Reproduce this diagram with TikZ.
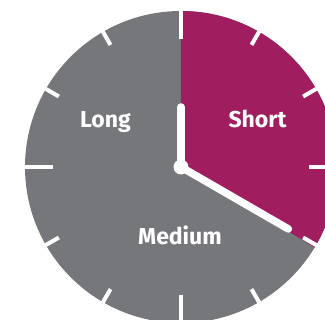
\documentclass[tikz,border=0pt]{standalone}
\usepackage{fontspec}
\setmainfont{Fira Sans}
\usetikzlibrary{calc}
\definecolor{clkgray}{RGB}{118,119,123}
\definecolor{clkmag}{RGB}{160,30,96}
\begin{document}
\begin{tikzpicture}[x=1pt,y=1pt,
  tickline/.style={white,line width=4pt},
  hand/.style={white,line width=7.5pt,line cap=round},
  lbl/.style={text=white,font=\fontsize{23}{27}\selectfont\bfseries,inner sep=0pt,anchor=base}]
\useasboundingbox (0,0) rectangle (325,-320);
\clip (0,0) rectangle (325,-320);
\coordinate (c) at (181,-167);
\fill[clkgray] (c) circle[radius=156];
\fill[clkmag] (c) -- ++(90:156) arc[start angle=90,end angle=-31,radius=156] -- cycle;
\foreach \a/\r in {0/128,30/141,60/141,90/128,120/141,150/141,180/128,210/141,240/141,270/128,300/141,330/141}{
  \draw[tickline] (c) ++(\a:\r) -- ++(\a:40);
}
\coordinate (hourtip) at ($(c)+(90:60)$);
\coordinate (mintip) at ($(c)+(-30:124)$);
\draw[hand] (c) -- (hourtip);
\draw[hand] (c) -- (mintip);
\fill[white] (c) circle[radius=7.5];
\node[lbl] (long) at (105.5,-127.5) {Long};
\node[lbl] (short) at (257.5,-127.5) {Short};
\node[lbl] (medium) at (180,-244.5) {Medium};
\end{tikzpicture}
\end{document}
